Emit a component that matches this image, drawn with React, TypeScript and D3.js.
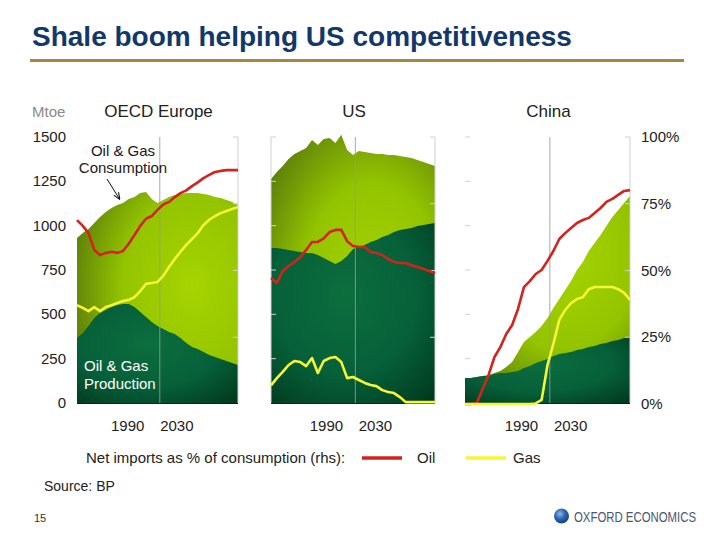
import React from "react";
import * as d3 from "d3";

// Year grid shared by every series (history to ~2001, outlook to 2035)
const years = [
  1965, 1967.5, 1970, 1972.5, 1975, 1977.5, 1980, 1982.5, 1985, 1987.5, 1990, 1992.5, 1995, 1997.5,
  2000, 2002.5, 2005, 2007.5, 2010, 2012.5, 2015, 2017.5, 2020, 2022.5, 2025, 2027.5, 2030, 2032.5, 2035,
];
const outlookStart = 2001;

// OECD Europe (Mtoe, and % for net imports)
const europeConsumption = [931, 959, 981, 1015, 1049, 1077, 1100, 1117, 1128, 1150, 1162, 1184, 1190, 1150, 1128, 1145, 1162, 1173, 1179, 1184, 1184, 1184, 1179, 1173, 1162, 1156, 1145, 1134, 1117];
const europeProduction = [367, 395, 434, 479, 508, 525, 541, 553, 558, 558, 541, 513, 485, 457, 434, 417, 400, 389, 367, 338, 316, 305, 288, 271, 259, 248, 237, 226, 214];
const europeOil = [68.9, 66.7, 64, 57.7, 55.8, 56.6, 57, 56.6, 57.3, 60, 63.3, 66.7, 69.4, 70.4, 72.7, 74.7, 75.7, 77.5, 79, 80, 81.6, 83, 84.6, 85.8, 86.9, 87.3, 87.6, 87.6, 87.6];
const europeGas = [37, 36, 34.8, 36.3, 34.8, 36.3, 37, 37.8, 38.6, 39, 40, 42.3, 45, 45.3, 45.7, 48, 51.3, 54.3, 57, 59.6, 61.8, 64, 67, 69, 70.4, 71.5, 72.3, 73, 73.8];

// US
const usConsumption = [1263, 1303, 1337, 1376, 1404, 1421, 1438, 1483, 1455, 1489, 1495, 1466, 1512, 1427, 1399, 1421, 1416, 1410, 1404, 1404, 1399, 1399, 1393, 1387, 1382, 1371, 1359, 1348, 1337];
const usProduction = [874, 874, 869, 863, 857, 852, 846, 846, 835, 818, 801, 784, 801, 829, 869, 880, 891, 908, 919, 936, 948, 964, 976, 981, 987, 998, 1004, 1010, 1015];
const usOil = [47.2, 45.3, 49.8, 51.7, 53.2, 55, 57.7, 60.7, 60.7, 62, 64.4, 65.2, 65.2, 61, 59.2, 58.8, 58.8, 56.9, 56.6, 55.8, 54.3, 53.2, 52.8, 52.8, 52, 51.3, 50.6, 49.8, 49];
const usGas = [7, 9.7, 12, 14.6, 16.1, 15.7, 14.2, 17.2, 11.6, 16.1, 17.2, 17.6, 15.7, 9.7, 10.1, 9, 7.9, 7.1, 6.7, 5.2, 4.5, 4.1, 2.6, 0.7, 0.7, 0.7, 0.7, 0.7, 0.7];

// China
const chinaConsumption = [141, 141, 147, 152, 158, 169, 180, 203, 231, 288, 344, 372, 400, 434, 479, 536, 587, 637, 688, 750, 795, 857, 902, 948, 998, 1049, 1089, 1128, 1168];
const chinaProduction = [141, 141, 147, 152, 152, 164, 169, 169, 175, 180, 197, 209, 226, 237, 248, 265, 276, 282, 288, 299, 305, 316, 321, 333, 338, 350, 355, 367, 372];
const chinaOil = [0, 0, 0.4, 5.6, 10.9, 17.6, 21.3, 26.2, 29.6, 35.6, 43.8, 46, 48.7, 50.2, 53.6, 57.3, 61.8, 64, 65.9, 67.8, 68.9, 69.7, 71.5, 73.4, 75.7, 76.8, 78.3, 79.8, 80.1];
const chinaGas = [0, 0, 0, 0, 0, 0, 0, 0, 0, 0, 0, 0, 0.2, 1.5, 14.6, 22.5, 31.5, 35.2, 37.8, 39.3, 40, 43, 43.8, 43.8, 43.8, 43.8, 43, 41.6, 39];

// Axis labels
const mtoeTicks = [0, 250, 500, 750, 1000, 1250, 1500];
const pctTicks = [0, 25, 50, 75, 100];
const xLabels = ["1990", "2030"];

const FONT = "'Liberation Sans', Arial, Helvetica, sans-serif";
const OIL = "#d2231c";
const GAS = "#f6f636";

type Panel = {
  key: string;
  title: string;
  x0: number;
  x1: number;
  consumption: number[];
  production: number[];
  oil: number[];
  gas: number[];
  leftAxis: "none" | "ticks" | "line";
  labelFrac: [number, number];
  consCenter: [string, string];
};

const panels: Panel[] = [
  { key: "eu", title: "OECD Europe", x0: 77, x1: 238, consumption: europeConsumption, production: europeProduction, oil: europeOil, gas: europeGas, leftAxis: "none", labelFrac: [0.315, 0.62], consCenter: ["0.72", "0.45"] },
  { key: "us", title: "US", x0: 271, x1: 435, consumption: usConsumption, production: usProduction, oil: usOil, gas: usGas, leftAxis: "line", labelFrac: [0.338, 0.637], consCenter: ["0.62", "0.62"] },
  { key: "cn", title: "China", x0: 465, x1: 630, consumption: chinaConsumption, production: chinaProduction, oil: chinaOil, gas: chinaGas, leftAxis: "ticks", labelFrac: [0.342, 0.64], consCenter: ["0.6", "0.3"] },
];

const yTop = 137;
const yBottom = 403;
const y = d3.scaleLinear().domain([0, 1500]).range([yBottom, yTop]);
const yPct = d3.scaleLinear().domain([0, 100]).range([yBottom + 1, yTop]);

function PanelView({ p }: { p: Panel }) {
  const x = d3.scaleLinear().domain([years[0], years[years.length - 1]]).range([p.x0, p.x1]);
  const area = d3
    .area<number>()
    .x((_, i) => x(years[i]))
    .y0(y(0))
    .y1((d) => y(d));
  const pctLine = d3
    .line<number>()
    .x((_, i) => x(years[i]))
    .y((d) => yPct(d));
  const w = p.x1 - p.x0;
  const labelX = d3
    .scalePoint<string>()
    .domain(xLabels)
    .range([p.x0 + w * p.labelFrac[0], p.x0 + w * p.labelFrac[1]]);
  const tickCol = "#d0d0d0";
  const tickLen = 5;
  return (
    <g>
      <path d={area(p.consumption) || ""} fill={`url(#cons-${p.key})`} />
      <path d={area(p.production) || ""} fill={`url(#prod-${p.key})`} />
      {/* outlook divider */}
      <line x1={x(outlookStart)} x2={x(outlookStart)} y1={yTop} y2={yBottom} stroke="#9a9a9a" strokeWidth={1} opacity={0.85} />
      {/* frame and ticks */}
      {p.leftAxis === "line" && <line x1={p.x0} x2={p.x0} y1={yTop} y2={yBottom} stroke={tickCol} strokeWidth={1} />}
      {p.leftAxis !== "none" &&
        mtoeTicks.slice(1).map((t) => (
          <line key={"l" + t} x1={p.x0} x2={p.x0 + tickLen} y1={y(t)} y2={y(t)} stroke={tickCol} strokeWidth={1} />
        ))}
      <line x1={p.x1} x2={p.x1} y1={yTop} y2={yBottom} stroke={tickCol} strokeWidth={1} />
      {pctTicks.slice(1).map((t) => (
        <line key={"r" + t} x1={p.x1 - tickLen} x2={p.x1} y1={yPct(t)} y2={yPct(t)} stroke={tickCol} strokeWidth={1} />
      ))}
      <line x1={p.x0} x2={p.x1} y1={yBottom + 0.5} y2={yBottom + 0.5} stroke="#1a1a1a" strokeWidth={1.2} />
      {/* net import shares */}
      <path d={pctLine(p.oil) || ""} fill="none" stroke={OIL} strokeWidth={2.6} strokeLinejoin="round" />
      <path d={pctLine(p.gas) || ""} fill="none" stroke={GAS} strokeWidth={2.6} strokeLinejoin="round" />
      {/* panel title */}
      <text x={(p.x0 + p.x1) / 2 + 1} y={117} textAnchor="middle" fontSize={17} fill="#222">
        {p.title}
      </text>
      {xLabels.map((l) => (
        <text key={l} x={labelX(l)} y={431} textAnchor="middle" fontSize={15} fill="#222">
          {l}
        </text>
      ))}
    </g>
  );
}

function Gradients() {
  return (
    <defs>
      {panels.map((p) => (
        <React.Fragment key={p.key}>
          <radialGradient id={`cons-${p.key}`} cx={p.consCenter[0]} cy={p.consCenter[1]} r="0.8">
            <stop offset="0" stopColor="#a6d400" />
            <stop offset="0.55" stopColor="#93c400" />
            <stop offset="1" stopColor="#587a0a" />
          </radialGradient>
          <radialGradient id={`prod-${p.key}`} cx="0.45" cy="0.4" r="0.8">
            <stop offset="0" stopColor="#0c6e3d" />
            <stop offset="0.55" stopColor="#06603a" />
            <stop offset="1" stopColor="#00381d" />
          </radialGradient>
        </React.Fragment>
      ))}
      <radialGradient id="globe" cx="0.4" cy="0.35" r="0.7">
        <stop offset="0" stopColor="#8fb8e8" />
        <stop offset="0.5" stopColor="#2a66b0" />
        <stop offset="1" stopColor="#143f7a" />
      </radialGradient>
      <marker id="arrowHead" viewBox="0 0 10 10" refX="9" refY="5" markerWidth="7" markerHeight="7" orient="auto">
        <path d="M0,1 L10,5 L0,9" fill="none" stroke="#111" strokeWidth={1.5} />
      </marker>
    </defs>
  );
}

export default function App() {
  return (
    <svg
      width={720}
      height={540}
      viewBox="0 0 720 540"
      style={{ position: "absolute", left: 0, top: 0, background: "#fff" }}
      fontFamily={FONT}
    >
      <Gradients />
      <rect x={0} y={0} width={720} height={540} fill="#fff" />

      {/* heading */}
      <text x={32} y={46} fontSize={28} fontWeight="bold" fill="#12386a">
        Shale boom helping US competitiveness
      </text>
      <line x1={30} x2={684} y1={60.5} y2={60.5} stroke="#a8873a" strokeWidth={3} />

      {/* left axis (Mtoe) */}
      <text x={32} y={117} fontSize={15} fill="#8a8a8a">
        Mtoe
      </text>
      {mtoeTicks.map((t) => (
        <text key={t} x={66} y={y(t) + 5} textAnchor="end" fontSize={15} fill="#222">
          {t}
        </text>
      ))}

      {/* right axis (% of consumption) */}
      {pctTicks.map((t) => (
        <text key={t} x={641} y={yPct(t) + 5} fontSize={15} fill="#222">
          {t}%
        </text>
      ))}

      {panels.map((p) => (
        <PanelView key={p.key} p={p} />
      ))}

      {/* annotations */}
      <text x={123} y={156} textAnchor="middle" fontSize={15} fill="#1a1a1a">
        Oil &amp; Gas
      </text>
      <text x={123} y={173} textAnchor="middle" fontSize={15} fill="#1a1a1a">
        Consumption
      </text>
      <line x1={107} y1={179} x2={119.5} y2={199} stroke="#111" strokeWidth={1} markerEnd="url(#arrowHead)" />
      <text x={84} y={371} fontSize={15} fill="#fff">
        Oil &amp; Gas
      </text>
      <text x={84} y={389} fontSize={15} fill="#fff">
        Production
      </text>

      {/* legend */}
      <text x={86} y={463} fontSize={15} fill="#222">
        Net imports as % of consumption (rhs):
      </text>
      <line x1={362} x2={402} y1={458} y2={458} stroke={OIL} strokeWidth={3.5} />
      <text x={417} y={463} fontSize={15} fill="#222">
        Oil
      </text>
      <line x1={466} x2={506} y1={458} y2={458} stroke={GAS} strokeWidth={3.5} />
      <text x={513} y={463} fontSize={15} fill="#222">
        Gas
      </text>

      {/* footer */}
      <text x={44} y={491} fontSize={14} fill="#222">
        Source: BP
      </text>
      <text x={34} y={522} fontSize={11} fill="#333">
        15
      </text>
      <circle cx={561.5} cy={516} r={7.5} fill="url(#globe)" />
      <g transform="translate(574,522) scale(0.735,1)">
        <text x={0} y={0} fontSize={15.5} fill="#4a5774">
          OXFORD ECONOMICS
        </text>
      </g>
    </svg>
  );
}
